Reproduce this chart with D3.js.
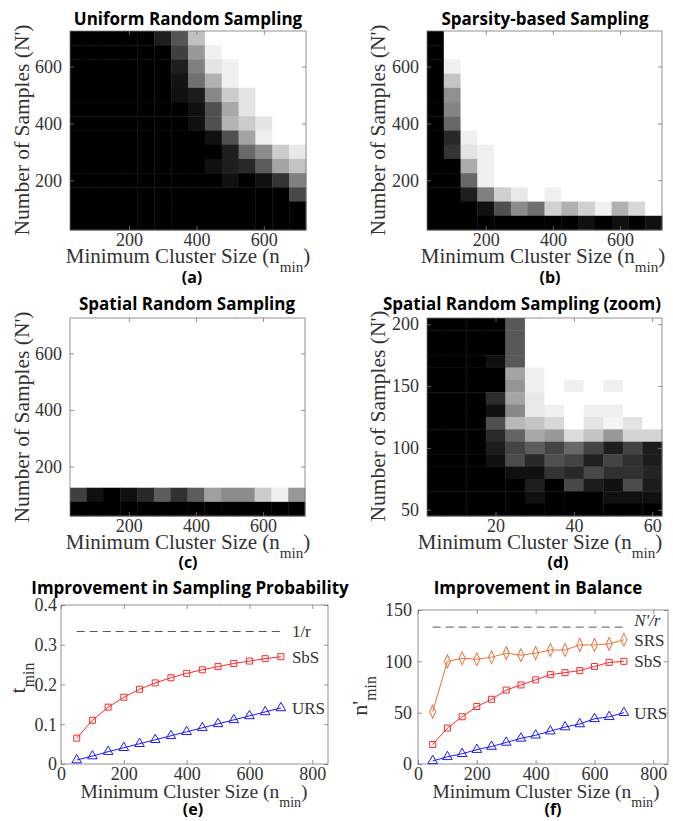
<!DOCTYPE html>
<html lang="en">
<head>
<meta charset="UTF-8">
<title>Sampling comparison</title>
<script src="https://d3js.org/d3.v7.min.js"></script>
<style>
  body { margin: 0; background: #fff; }
</style>
</head>
<body>
<script>
const width = 673, height = 821;

// ---- heatmap data (gray level 0 = black .. 255 = white) ----
const clusterSizes = [50, 100, 150, 200, 250, 300, 350, 400, 450, 500, 550, 600, 650, 700];
const sampleCounts = [700, 650, 600, 550, 500, 450, 400, 350, 300, 250, 200, 150, 100, 50]; // top -> bottom

const uniformGray = [
  [0, 0, 0, 0, 0, 30, 85, 192, 255, 255, 255, 255, 255, 255],
  [0, 0, 0, 0, 0, 0, 64, 152, 240, 255, 255, 255, 255, 255],
  [0, 0, 0, 0, 0, 0, 30, 128, 228, 240, 255, 255, 255, 255],
  [0, 0, 0, 0, 0, 0, 20, 112, 176, 240, 255, 255, 255, 255],
  [0, 0, 0, 0, 0, 0, 16, 28, 136, 204, 228, 255, 255, 255],
  [0, 0, 0, 0, 0, 0, 0, 16, 80, 168, 228, 255, 255, 255],
  [0, 0, 0, 0, 0, 0, 0, 16, 80, 180, 204, 228, 255, 255],
  [0, 0, 0, 0, 0, 0, 0, 0, 16, 80, 164, 240, 255, 255],
  [0, 0, 0, 0, 0, 0, 0, 0, 0, 30, 106, 140, 204, 232],
  [0, 0, 0, 0, 0, 0, 0, 0, 16, 30, 40, 92, 164, 196],
  [0, 0, 0, 0, 0, 0, 0, 0, 0, 16, 0, 16, 52, 128],
  [0, 0, 0, 0, 0, 0, 0, 0, 0, 0, 0, 0, 0, 72],
  [0, 0, 0, 0, 0, 0, 0, 0, 0, 0, 0, 0, 0, 0],
  [0, 0, 0, 0, 0, 0, 0, 0, 0, 0, 0, 0, 0, 0]
];

const sparsityGray = [
  [0, 255, 255, 255, 255, 255, 255, 255, 255, 255, 255, 255, 255, 255],
  [0, 255, 255, 255, 255, 255, 255, 255, 255, 255, 255, 255, 255, 255],
  [0, 240, 255, 255, 255, 255, 255, 255, 255, 255, 255, 255, 255, 255],
  [0, 196, 255, 255, 255, 255, 255, 255, 255, 255, 255, 255, 255, 255],
  [0, 144, 255, 255, 255, 255, 255, 255, 255, 255, 255, 255, 255, 255],
  [0, 132, 255, 255, 255, 255, 255, 255, 255, 255, 255, 255, 255, 255],
  [0, 104, 255, 255, 255, 255, 255, 255, 255, 255, 255, 255, 255, 255],
  [0, 40, 240, 255, 255, 255, 255, 255, 255, 255, 255, 255, 255, 255],
  [0, 52, 228, 240, 255, 255, 255, 255, 255, 255, 255, 255, 255, 255],
  [0, 0, 172, 240, 255, 255, 255, 255, 255, 255, 255, 255, 255, 255],
  [0, 0, 104, 240, 255, 255, 255, 255, 255, 255, 255, 255, 255, 255],
  [0, 0, 30, 128, 208, 232, 255, 240, 255, 255, 255, 255, 255, 255],
  [0, 0, 0, 16, 80, 140, 112, 208, 176, 208, 240, 176, 216, 255],
  [0, 0, 0, 0, 0, 0, 0, 0, 0, 16, 0, 16, 0, 16]
];

const spatialGray = [
  [255, 255, 255, 255, 255, 255, 255, 255, 255, 255, 255, 255, 255, 255],
  [255, 255, 255, 255, 255, 255, 255, 255, 255, 255, 255, 255, 255, 255],
  [255, 255, 255, 255, 255, 255, 255, 255, 255, 255, 255, 255, 255, 255],
  [255, 255, 255, 255, 255, 255, 255, 255, 255, 255, 255, 255, 255, 255],
  [255, 255, 255, 255, 255, 255, 255, 255, 255, 255, 255, 255, 255, 255],
  [255, 255, 255, 255, 255, 255, 255, 255, 255, 255, 255, 255, 255, 255],
  [255, 255, 255, 255, 255, 255, 255, 255, 255, 255, 255, 255, 255, 255],
  [255, 255, 255, 255, 255, 255, 255, 255, 255, 255, 255, 255, 255, 255],
  [255, 255, 255, 255, 255, 255, 255, 255, 255, 255, 255, 255, 255, 255],
  [255, 255, 255, 255, 255, 255, 255, 255, 255, 255, 255, 255, 255, 255],
  [255, 255, 255, 255, 255, 255, 255, 255, 255, 255, 255, 255, 255, 255],
  [255, 255, 255, 255, 255, 255, 255, 255, 255, 255, 255, 255, 255, 255],
  [64, 16, 0, 16, 40, 92, 48, 92, 160, 140, 140, 204, 240, 152],
  [0, 0, 0, 0, 0, 0, 0, 0, 0, 0, 0, 0, 0, 0]
];

const zoomClusterSizes = [5, 10, 15, 20, 25, 30, 35, 40, 45, 50, 55, 60];
const zoomSampleCounts = [200, 190, 180, 170, 160, 150, 140, 130, 120, 110, 100, 90, 80, 70, 60, 50];
const zoomGray = [
  [0, 0, 0, 0, 88, 255, 255, 255, 255, 255, 255, 255],
  [0, 0, 0, 0, 88, 255, 255, 255, 255, 255, 255, 255],
  [0, 0, 0, 0, 88, 255, 255, 255, 255, 255, 255, 255],
  [0, 0, 0, 16, 88, 255, 255, 255, 255, 255, 255, 255],
  [0, 0, 0, 0, 164, 240, 255, 255, 255, 255, 255, 255],
  [0, 0, 0, 0, 148, 240, 255, 240, 255, 240, 255, 255],
  [0, 0, 0, 44, 164, 232, 255, 255, 255, 255, 255, 255],
  [0, 0, 0, 16, 136, 232, 240, 255, 240, 240, 255, 255],
  [0, 0, 0, 80, 184, 196, 216, 255, 228, 244, 228, 255],
  [0, 0, 0, 42, 100, 168, 152, 220, 196, 152, 212, 212],
  [0, 0, 0, 28, 68, 92, 68, 104, 68, 30, 68, 28],
  [0, 0, 0, 16, 76, 40, 80, 68, 32, 68, 48, 28],
  [0, 0, 0, 0, 16, 16, 52, 40, 72, 48, 48, 36],
  [0, 0, 0, 0, 0, 30, 0, 72, 28, 16, 76, 28],
  [0, 0, 0, 0, 0, 16, 0, 0, 0, 16, 16, 16],
  [0, 0, 0, 0, 0, 0, 0, 0, 0, 0, 0, 0]
];

// ---- line chart data ----
const lineSizes = [50, 100, 150, 200, 250, 300, 350, 400, 450, 500, 550, 600, 650, 700];
const tSbS = [0.065, 0.110, 0.143, 0.168, 0.188, 0.204, 0.217, 0.228, 0.237, 0.245, 0.253, 0.259, 0.265, 0.270];
const tURS = [0.010, 0.020, 0.031, 0.041, 0.051, 0.061, 0.071, 0.081, 0.091, 0.101, 0.111, 0.121, 0.131, 0.141];
const nSRS = [51, 100, 103, 102, 104, 108, 106, 108, 111, 111, 116, 116, 117, 121];
const nSbS = [19, 35, 46, 56, 63, 72, 77, 82, 87, 89, 91, 95, 99, 100];
const nURS = [3, 7, 10, 14, 17, 21, 25, 28, 32, 36, 39, 44, 46, 50];
const tBound = 1 / 3;      // 1/r
const nBound = 400 / 3;    // N'/r

const serif = "'Liberation Serif', 'Times New Roman', serif";
const sans = "'Open Sans', 'DejaVu Sans', sans-serif";
const gray = d3.scaleLinear().domain([0, 255]).range(["#000", "#fff"]);

const svg = d3.select("body").append("svg")
    .attr("width", width)
    .attr("height", height);

function title(x, y, txt) {
  svg.append("text").attr("x", x).attr("y", y)
     .attr("text-anchor", "middle")
     .style("font-family", sans).style("font-weight", "bold").style("font-size", "17px")
     .attr("fill", "#000").text(txt);
}

function subLabel(x, y, txt) {
  svg.append("text").attr("x", x).attr("y", y)
     .attr("text-anchor", "middle")
     .style("font-family", sans).style("font-weight", "bold").style("font-size", "16px")
     .attr("fill", "#000").text(txt);
}

// "Minimum Cluster Size (n_min)"
function xLabel(x, y, size) {
  const t = svg.append("text").attr("x", x).attr("y", y)
     .attr("text-anchor", "middle")
     .style("font-family", serif).style("font-size", size + "px").attr("fill", "#333");
  t.append("tspan").text("Minimum Cluster Size (n");
  t.append("tspan").attr("dy", size * 0.45).style("font-size", (size * 0.72) + "px").text("min");
  t.append("tspan").attr("dy", -size * 0.45).text(")");
}

function yLabel(x, y, parts, size) {
  const t = svg.append("text")
     .attr("transform", `translate(${x},${y}) rotate(-90)`)
     .attr("text-anchor", "middle")
     .style("font-family", serif).style("font-size", size + "px").attr("fill", "#333");
  parts.forEach(p => {
    const s = t.append("tspan").text(p.text);
    if (p.sub) s.attr("dy", size * 0.4).style("font-size", (size * 0.72) + "px");
    if (p.italic) s.style("font-style", "italic");
  });
}

function axes(g, xs, ys, w, h, xTicks, yTicks, xFmt, yFmt, xPad, yPad, fs) {
  const ax = [
    g.append("g").attr("transform", `translate(0,${h})`)
      .call(d3.axisBottom(xs).tickValues(xTicks).tickSizeInner(-4).tickSizeOuter(0).tickPadding(xPad).tickFormat(xFmt)),
    g.append("g")
      .call(d3.axisTop(xs).tickValues(xTicks).tickSizeInner(-4).tickSizeOuter(0).tickFormat("")),
    g.append("g")
      .call(d3.axisLeft(ys).tickValues(yTicks).tickSizeInner(-4).tickSizeOuter(0).tickPadding(yPad).tickFormat(yFmt)),
    g.append("g").attr("transform", `translate(${w},0)`)
      .call(d3.axisRight(ys).tickValues(yTicks).tickSizeInner(-4).tickSizeOuter(0).tickFormat(""))
  ];
  ax.forEach(a => {
    a.select(".domain").remove();
    a.selectAll(".tick line").attr("stroke", "#777").attr("stroke-width", 0.8);
    a.selectAll(".tick text").style("font-family", serif).style("font-size", fs + "px").attr("fill", "#333");
  });
  g.append("rect").attr("width", w).attr("height", h)
   .attr("fill", "none").attr("stroke", "#777").attr("stroke-width", 0.8);
}

function heatmap(p) {
  const g = svg.append("g").attr("transform", `translate(${p.left},${p.top})`);
  const xs = d3.scaleLinear().domain(p.xDomain).range([0, p.w]);
  const ys = d3.scaleLinear().domain(p.yDomain).range([p.h, 0]);
  const cells = [];
  p.rows.forEach((r, i) => p.cols.forEach((c, j) => cells.push({ c, r, v: p.values[i][j] })));
  g.selectAll("rect.cell").data(cells).join("rect")
    .attr("class", "cell")
    .attr("x", d => xs(d.c - p.step[0] / 2))
    .attr("y", d => ys(d.r + p.step[1] / 2))
    .attr("width", d => xs(d.c + p.step[0] / 2) - xs(d.c - p.step[0] / 2) + 0.4)
    .attr("height", d => ys(d.r - p.step[1] / 2) - ys(d.r + p.step[1] / 2) + 0.4)
    .attr("fill", d => gray(d.v));
  axes(g, xs, ys, p.w, p.h, p.xTicks, p.yTicks, d3.format("d"), d3.format("d"), 3, 8, 18);
}

function lineChart(p) {
  const g = svg.append("g").attr("transform", `translate(${p.left},${p.top})`);
  const xs = d3.scaleLinear().domain([0, 850]).range([0, p.w]);
  const ys = d3.scaleLinear().domain(p.yDomain).range([p.h, 0]);
  axes(g, xs, ys, p.w, p.h, [0, 200, 400, 600, 800], p.yTicks, d3.format("d"), p.yFmt, 3, p.yPad, 18);

  g.append("line")
    .attr("x1", xs(lineSizes[0])).attr("x2", xs(lineSizes[lineSizes.length - 1]))
    .attr("y1", ys(p.bound)).attr("y2", ys(p.bound))
    .attr("stroke", "#444").attr("stroke-width", 0.9).attr("stroke-dasharray", "8,5");
  const bl = g.append("text").attr("x", xs(735)).attr("y", ys(p.boundLabelY)).attr("dy", "0.35em")
    .style("font-family", serif).style("font-size", "17px").attr("fill", "#333").text(p.boundLabel);
  if (p.boundItalic) bl.style("font-style", "italic");

  const line = d3.line().x((d, i) => xs(lineSizes[i])).y(d => ys(d));
  p.series.forEach(s => {
    g.append("path").datum(s.values)
      .attr("d", line).attr("fill", "none")
      .attr("stroke", s.color).attr("stroke-width", 1);
    const sym = d3.symbol().type(s.marker).size(s.size);
    g.selectAll(null).data(s.values).join("path")
      .attr("transform", (d, i) => `translate(${xs(lineSizes[i])},${ys(d)})` + (s.marker === d3.symbolDiamond ? " scale(0.9,1.1)" : ""))
      .attr("d", sym)
      .attr("fill", "none").attr("stroke", s.color).attr("stroke-width", 1);
    g.append("text").attr("x", xs(735)).attr("y", ys(s.values[s.values.length - 1])).attr("dy", "0.35em")
      .style("font-family", serif).style("font-size", "17px").attr("fill", "#333").text(s.name);
  });
}

// ---- (a) ----
title(188, 25, "Uniform Random Sampling");
heatmap({ left: 70, top: 31, w: 236, h: 199, cols: clusterSizes, rows: sampleCounts, values: uniformGray,
          step: [50, 50], xDomain: [25, 725], yDomain: [25, 725], xTicks: [200, 400, 600], yTicks: [200, 400, 600] });
yLabel(29, 130, [{ text: "Number of Samples (N')" }], 21.5);
xLabel(188, 263, 21);
subLabel(192, 283, "(a)");

// ---- (b) ----
title(545, 25, "Sparsity-based Sampling");
heatmap({ left: 427, top: 31, w: 235, h: 199, cols: clusterSizes, rows: sampleCounts, values: sparsityGray,
          step: [50, 50], xDomain: [25, 725], yDomain: [25, 725], xTicks: [200, 400, 600], yTicks: [200, 400, 600] });
yLabel(385, 130, [{ text: "Number of Samples (N')" }], 21.5);
xLabel(543, 263, 21);
subLabel(550, 283, "(b)");

// ---- (c) ----
title(187, 310, "Spatial Random Sampling");
heatmap({ left: 70, top: 318, w: 235, h: 198, cols: clusterSizes, rows: sampleCounts, values: spatialGray,
          step: [50, 50], xDomain: [25, 725], yDomain: [25, 725], xTicks: [200, 400, 600], yTicks: [200, 400, 600] });
yLabel(29, 417, [{ text: "Number of Samples (N')" }], 21.5);
xLabel(188, 549, 21);
subLabel(188, 568, "(c)");

// ---- (d) ----
title(522, 310, "Spatial Random Sampling (zoom)");
heatmap({ left: 427, top: 318, w: 235, h: 198, cols: zoomClusterSizes, rows: zoomSampleCounts, values: zoomGray,
          step: [5, 10], xDomain: [2.5, 62.5], yDomain: [45, 205], xTicks: [20, 40, 60], yTicks: [50, 100, 150, 200] });
yLabel(385, 416, [{ text: "Number of Samples (N')" }], 21.5);
xLabel(540, 549, 21);
subLabel(558, 568, "(d)");

// ---- (e) ----
title(190, 594, "Improvement in Sampling Probability");
lineChart({ left: 61, top: 605, w: 267, h: 159, yDomain: [0, 0.4], yTicks: [0, 0.1, 0.2, 0.3, 0.4],
            yFmt: d => d === 0 ? "0" : d3.format(".1f")(d), yPad: 4,
            bound: tBound, boundLabel: "1/r", boundLabelY: tBound, boundItalic: false,
            series: [
              { name: "SbS", values: tSbS, color: "#ff2a2a", marker: d3.symbolSquare, size: 36 },
              { name: "URS", values: tURS, color: "#1a1aff", marker: d3.symbolTriangle, size: 40 }
            ] });
yLabel(25, 678, [{ text: "t" }, { text: "min", sub: true }], 22);
xLabel(194, 798, 19.5);
subLabel(193, 815, "(e)");

// ---- (f) ----
title(538, 594, "Improvement in Balance");
lineChart({ left: 418, top: 610, w: 250, h: 154, yDomain: [0, 150], yTicks: [0, 50, 100, 150],
            yFmt: d3.format("d"), yPad: 6,
            bound: nBound, boundLabel: "N'/r", boundLabelY: 140, boundItalic: true,
            series: [
              { name: "SRS", values: nSRS, color: "#e8703a", marker: d3.symbolDiamond, size: 40 },
              { name: "SbS", values: nSbS, color: "#ff2a2a", marker: d3.symbolSquare, size: 36 },
              { name: "URS", values: nURS, color: "#1a1aff", marker: d3.symbolTriangle, size: 40 }
            ] });
yLabel(367, 696, [{ text: "n'" }, { text: "min", sub: true }], 22);
xLabel(546, 798, 19.5);
subLabel(553, 815, "(f)");
</script>
</body>
</html>
